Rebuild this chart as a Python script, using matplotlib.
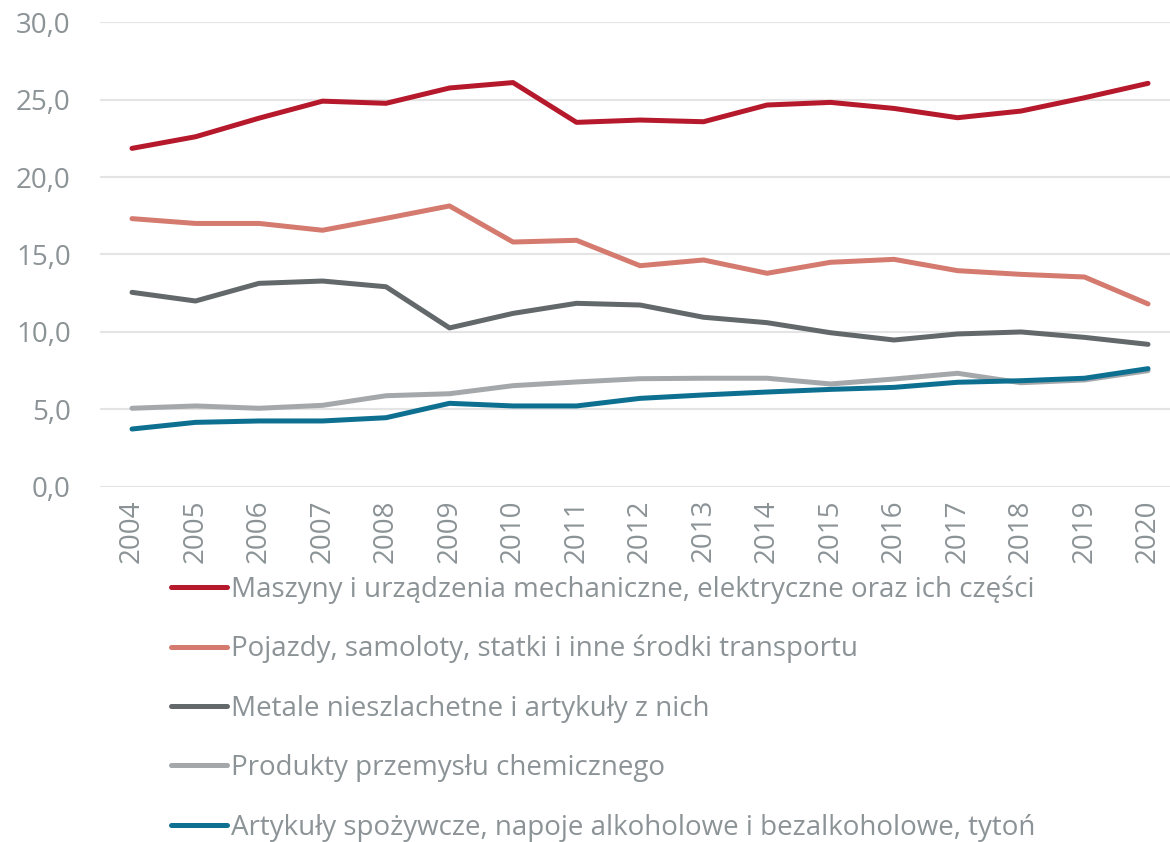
import matplotlib
matplotlib.use("Agg")
import matplotlib.pyplot as plt
from matplotlib.ticker import FuncFormatter

years = [str(y) for y in range(2004, 2021)]

maszyny = [21.85, 22.6, 23.8, 24.9, 24.76, 25.75, 26.1, 23.53, 23.68, 23.57,
           24.65, 24.82, 24.43, 23.83, 24.26, 25.12, 26.05]
pojazdy = [17.31, 17.0, 17.0, 16.56, 17.33, 18.13, 15.8, 15.91, 14.27, 14.64,
           13.78, 14.49, 14.68, 13.95, 13.71, 13.54, 11.8]
metale = [12.55, 11.99, 13.13, 13.28, 12.91, 10.25, 11.19, 11.84, 11.73, 10.94,
          10.59, 9.94, 9.47, 9.86, 9.99, 9.64, 9.19]
chemia = [5.06, 5.21, 5.06, 5.25, 5.87, 6.0, 6.52, 6.76, 6.97, 7.0,
          7.0, 6.63, 6.95, 7.32, 6.71, 6.89, 7.49]
spozywcze = [3.72, 4.15, 4.24, 4.24, 4.45, 5.38, 5.21, 5.21, 5.7, 5.92,
             6.11, 6.28, 6.41, 6.74, 6.84, 7.0, 7.62]

labels = [
    "Maszyny i urządzenia mechaniczne, elektryczne oraz ich części",
    "Pojazdy, samoloty, statki i inne środki transportu",
    "Metale nieszlachetne i artykuły z nich",
    "Produkty przemysłu chemicznego",
    "Artykuły spożywcze, napoje alkoholowe i bezalkoholowe, tytoń",
]
colors = ["#B5192B", "#D47A6F", "#63686A", "#A5A8AB", "#0E7091"]

plt.rcParams['font.family'] = ['Open Sans', 'DejaVu Sans']
text_col = "#8C9396"

W, H = 1170, 842
fig = plt.figure(figsize=(W / 100, H / 100), dpi=100)
ax = fig.add_axes([100 / W, (H - 486.6) / H, 1070 / W, (486.6 - 22.2) / H])

x = list(range(len(years)))
series = [maszyny, pojazdy, metale, chemia, spozywcze]
handles = []
for vals, c, lab in zip(series, colors, labels):
    h, = ax.plot(x, vals, color=c, lw=3.6, solid_capstyle='round',
                 solid_joinstyle='round', label=lab)
    handles.append(h)

ax.set_ylim(0, 30)
ax.set_xlim(-0.504, 16.346)
ax.set_yticks([0, 5, 10, 15, 20, 25, 30])
ax.yaxis.set_major_formatter(FuncFormatter(lambda v, p: f"{v:.1f}".replace('.', ',')))
ax.set_xticks(x)
ax.set_xticklabels(years, rotation=90)
ax.grid(axis='y', color="#E4E4E4", lw=1.5)
ax.set_axisbelow(True)
for sp in ax.spines.values():
    sp.set_visible(False)
ax.tick_params(axis='both', length=0, labelsize=20, colors=text_col)
ax.tick_params(axis='y', pad=21)
ax.tick_params(axis='x', pad=9)

leg = fig.legend(handles, labels, loc='upper left',
                 bbox_to_anchor=(171 / W, (H - 575) / H),
                 frameon=False, fontsize=20, handlelength=2.0,
                 handletextpad=0.15, labelspacing=1.13,
                 borderaxespad=0, borderpad=0)
for t in leg.get_texts():
    t.set_color(text_col)
for lh in leg.get_lines():
    lh.set_linewidth(3.6)
    lh.set_solid_capstyle('round')

fig.savefig("out.png", dpi=100)
